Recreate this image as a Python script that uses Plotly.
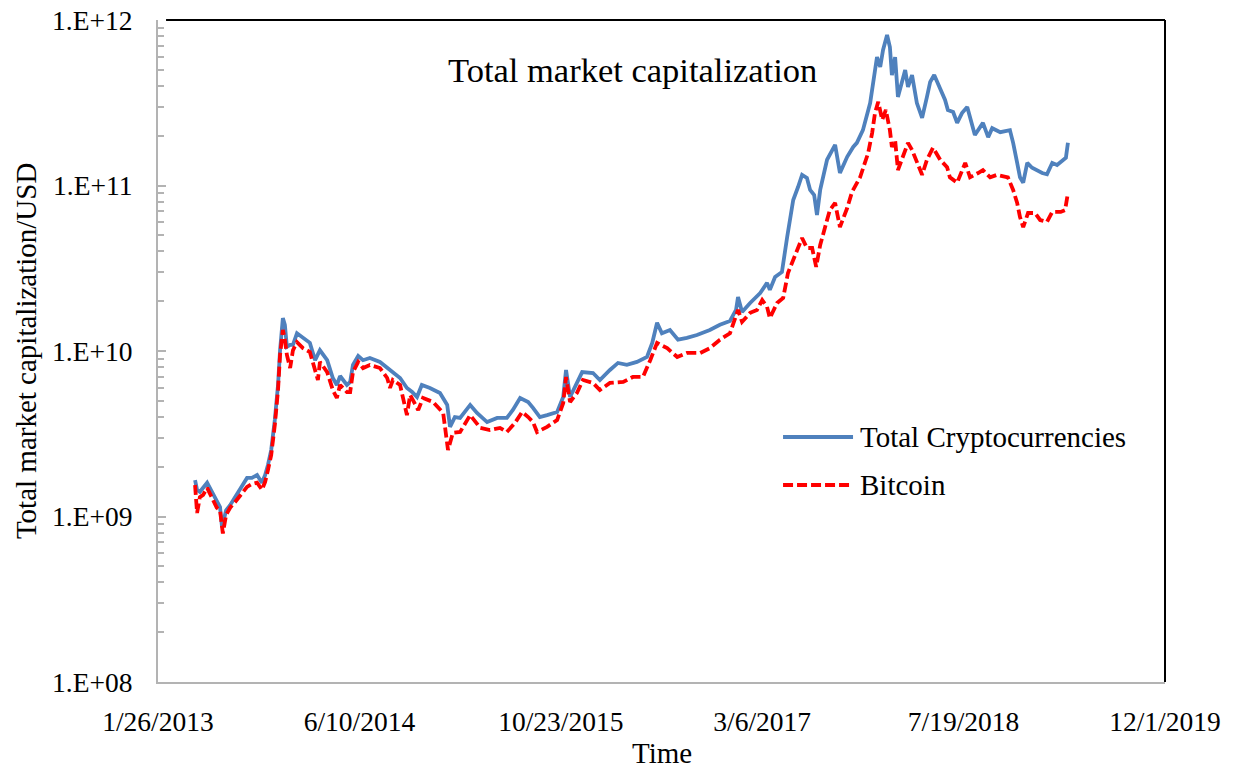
import plotly.graph_objects as go

# ---------------- data ----------------
total_dates = ["2013-04-28","2013-05-03","2013-05-10","2013-05-28","2013-06-09","2013-06-21","2013-06-29","2013-07-04","2013-07-14","2013-07-24",
"2013-08-05","2013-08-18","2013-09-04","2013-09-16","2013-09-29","2013-10-11","2013-10-19","2013-10-26","2013-11-03","2013-11-12",
"2013-11-20","2013-11-25","2013-12-02","2013-12-07","2013-12-12","2013-12-20","2013-12-27","2014-01-06","2014-01-21","2014-02-07",
"2014-02-20","2014-03-04","2014-03-22","2014-04-05","2014-04-15","2014-04-23","2014-05-10","2014-05-18","2014-05-25","2014-06-07",
"2014-06-19","2014-07-06","2014-07-31","2014-08-18","2014-09-01","2014-09-19","2014-10-06","2014-10-19","2014-10-31","2014-11-12",
"2014-12-02","2014-12-27","2015-01-14","2015-01-21","2015-02-02","2015-02-15","2015-03-12","2015-03-29","2015-04-23","2015-05-18",
"2015-06-11","2015-06-26","2015-07-14","2015-08-03","2015-08-15","2015-09-01","2015-09-19","2015-10-14","2015-10-29","2015-11-05",
"2015-11-15","2015-12-02","2015-12-15","2016-01-11","2016-01-28","2016-02-22","2016-03-13","2016-04-04","2016-04-29","2016-05-24",
"2016-06-06","2016-06-18","2016-06-30","2016-07-20","2016-08-09","2016-08-31","2016-09-25","2016-10-27","2016-11-21","2016-12-16",
"2016-12-31","2017-01-05","2017-01-15","2017-02-04","2017-03-01","2017-03-18","2017-03-25","2017-04-07","2017-04-24","2017-05-07",
"2017-05-22","2017-06-03","2017-06-13","2017-06-25","2017-07-03","2017-07-13","2017-07-20","2017-07-28","2017-08-14","2017-09-03",
"2017-09-15","2017-10-03","2017-10-18","2017-10-27","2017-11-11","2017-11-29","2017-12-16","2017-12-24","2017-12-31","2018-01-10",
"2018-01-17","2018-01-22","2018-01-30","2018-02-06","2018-02-24","2018-03-03","2018-03-13","2018-03-25","2018-04-07","2018-04-19",
"2018-04-27","2018-05-07","2018-05-22","2018-06-03","2018-06-10","2018-06-23","2018-07-03","2018-07-15","2018-07-28","2018-08-04",
"2018-08-16","2018-09-05","2018-09-18","2018-09-28","2018-10-18","2018-11-11","2018-11-19","2018-11-29","2018-12-06","2018-12-14",
"2018-12-24","2019-01-05","2019-01-17","2019-01-30","2019-02-11","2019-02-24","2019-03-08","2019-03-23","2019-03-30","2019-04-04"]

total_cap = [1.66e9,1.45e9,1.41e9,1.60e9,1.41e9,1.26e9,1.14e9,8.6e8,1.09e9,1.17e9,
1.31e9,1.45e9,1.71e9,1.71e9,1.78e9,1.60e9,1.78e9,2.05e9,2.52e9,3.83e9,
6.23e9,1.01e10,1.58e10,1.44e10,1.06e10,1.09e10,1.09e10,1.28e10,1.20e10,1.12e10,
8.8e9,1.01e10,8.8e9,6.87e9,6.23e9,7.06e9,6.23e9,6.50e9,8.24e9,9.33e9,
8.8e9,9.08e9,8.59e9,7.89e9,7.36e9,6.87e9,5.98e9,5.65e9,5.27e9,6.23e9,
5.98e9,5.57e9,4.72e9,3.48e9,3.99e9,3.94e9,4.72e9,4.22e9,3.72e9,3.94e9,
3.94e9,4.40e9,5.20e9,4.92e9,4.53e9,3.99e9,4.10e9,4.28e9,5.27e9,7.68e9,
5.27e9,6.41e9,7.46e9,7.36e9,6.68e9,7.68e9,8.47e9,8.24e9,8.59e9,9.20e9,
1.12e10,1.48e10,1.28e10,1.34e10,1.17e10,1.20e10,1.25e10,1.34e10,1.44e10,1.52e10,
1.77e10,2.12e10,1.72e10,1.95e10,2.24e10,2.58e10,2.34e10,2.80e10,3.00e10,4.89e10,
8.17e10,9.79e10,1.16e11,1.11e11,9.40e10,8.77e10,6.64e10,9.40e10,1.43e11,1.76e11,
1.19e11,1.49e11,1.71e11,1.81e11,2.16e11,3.15e11,5.97e11,5.20e11,6.59e11,8.12e11,
6.87e11,4.65e11,5.97e11,3.43e11,4.99e11,3.94e11,4.65e11,3.15e11,2.56e11,3.43e11,
4.22e11,4.65e11,3.78e11,3.29e11,2.86e11,2.78e11,2.39e11,2.74e11,2.98e11,2.59e11,
2.02e11,2.39e11,1.96e11,2.22e11,2.10e11,2.16e11,1.81e11,1.37e11,1.12e11,1.04e11,
1.37e11,1.28e11,1.24e11,1.19e11,1.17e11,1.37e11,1.33e11,1.43e11,1.47e11,1.81e11]

btc_dates = ["2013-04-28","2013-05-03","2013-05-10","2013-05-18","2013-05-28","2013-06-09","2013-06-21","2013-06-29","2013-07-06","2013-07-14",
"2013-07-24","2013-08-05","2013-08-18","2013-09-04","2013-09-16","2013-09-29","2013-10-11","2013-10-19","2013-10-26","2013-11-03",
"2013-11-12","2013-11-20","2013-11-25","2013-12-02","2013-12-07","2013-12-12","2013-12-20","2013-12-27","2014-01-06","2014-01-21",
"2014-02-07","2014-02-20","2014-02-27","2014-03-04","2014-03-22","2014-04-05","2014-04-15","2014-04-23","2014-05-10","2014-05-18",
"2014-05-25","2014-06-07","2014-06-19","2014-07-06","2014-07-31","2014-08-18","2014-08-25","2014-09-01","2014-09-19","2014-10-06",
"2014-10-14","2014-11-03","2014-11-15","2014-12-10","2015-01-04","2015-01-16","2015-01-28","2015-02-15","2015-03-12","2015-04-06",
"2015-04-30","2015-05-25","2015-06-11","2015-07-01","2015-07-19","2015-08-03","2015-08-15","2015-08-25","2015-09-19","2015-10-14",
"2015-10-29","2015-11-05","2015-11-15","2015-12-02","2015-12-17","2016-01-11","2016-01-28","2016-02-22","2016-03-26","2016-04-19",
"2016-05-14","2016-06-01","2016-06-18","2016-07-13","2016-08-07","2016-08-31","2016-10-03","2016-10-27","2016-11-21","2016-12-16",
"2016-12-24","2017-01-05","2017-01-15","2017-02-04","2017-02-21","2017-03-06","2017-03-18","2017-03-25","2017-04-12","2017-04-27",
"2017-05-09","2017-05-22","2017-06-01","2017-06-13","2017-06-25","2017-07-08","2017-07-18","2017-07-28","2017-08-14","2017-08-21",
"2017-09-03","2017-09-15","2017-10-03","2017-10-15","2017-11-04","2017-11-16","2017-11-24","2017-12-04","2017-12-11","2017-12-19",
"2017-12-29","2018-01-07","2018-01-17","2018-01-22","2018-01-30","2018-02-06","2018-02-19","2018-03-03","2018-03-13","2018-03-25",
"2018-04-07","2018-04-19","2018-05-04","2018-05-22","2018-06-08","2018-06-15","2018-07-03","2018-07-23","2018-08-04","2018-08-24",
"2018-09-05","2018-09-23","2018-10-10","2018-11-06","2018-11-19","2018-11-29","2018-12-06","2018-12-14","2018-12-26","2019-01-12",
"2019-01-25","2019-02-11","2019-02-24","2019-03-17","2019-03-28","2019-04-04"]

btc_cap = [1.55e9,1.05e9,1.31e9,1.35e9,1.49e9,1.31e9,1.13e9,1.09e9,7.9e8,1.02e9,
1.13e9,1.22e9,1.35e9,1.51e9,1.57e9,1.60e9,1.45e9,1.62e9,1.91e9,2.35e9,
3.57e9,5.81e9,9.46e9,1.34e10,1.17e10,9.46e9,7.89e9,1.01e10,1.13e10,1.04e10,
9.86e9,7.68e9,6.68e9,8.59e9,7.46e9,5.81e9,5.20e9,6.23e9,5.65e9,5.65e9,
7.46e9,8.59e9,7.89e9,8.24e9,7.89e9,6.87e9,5.98e9,6.68e9,6.23e9,4.10e9,
5.42e9,4.40e9,5.20e9,4.92e9,4.22e9,2.52e9,3.20e9,3.24e9,4.10e9,3.43e9,
3.33e9,3.43e9,3.24e9,3.67e9,4.28e9,3.99e9,3.72e9,3.24e9,3.48e9,3.83e9,
4.85e9,6.97e9,4.92e9,5.57e9,6.68e9,6.41e9,5.81e9,6.41e9,6.50e9,6.97e9,
6.97e9,8.8e9,1.12e10,1.04e10,9.20e9,9.73e9,9.73e9,1.04e10,1.17e10,1.28e10,
1.48e10,1.77e10,1.50e10,1.70e10,1.77e10,2.03e10,1.85e10,1.58e10,1.95e10,2.09e10,
2.96e10,3.55e10,4.08e10,4.82e10,4.19e10,4.19e10,3.22e10,4.37e10,6.19e10,7.11e10,
7.84e10,5.61e10,7.31e10,9.14e10,1.12e11,1.37e11,1.57e11,2.08e11,2.74e11,3.20e11,
2.49e11,2.86e11,2.16e11,1.71e11,1.88e11,1.24e11,1.49e11,1.81e11,1.64e11,1.37e11,
1.16e11,1.43e11,1.69e11,1.43e11,1.29e11,1.12e11,1.04e11,1.37e11,1.12e11,1.19e11,
1.24e11,1.12e11,1.16e11,1.12e11,9.40e10,7.84e10,6.45e10,5.61e10,6.82e10,6.82e10,
6.19e10,6.02e10,6.92e10,6.92e10,7.11e10,9.01e10]

x_tick_vals = ["2013-01-26","2014-06-10","2015-10-23","2017-03-06","2018-07-19","2019-12-01"]
x_tick_text = ["1/26/2013","6/10/2014","10/23/2015","3/6/2017","7/19/2018","12/1/2019"]
y_tick_vals = [1e8, 1e9, 1e10, 1e11, 1e12]
y_tick_text = ["1.E+08","1.E+09","1.E+10","1.E+11","1.E+12"]

series_names = ["Total Cryptocurrencies", "Bitcoin"]
chart_title = "Total market capitalization"
x_title = "Time"
y_title = "Total market capitalization/USD"

# ---------------- styling ----------------
FONT = "Liberation Serif, Times New Roman, serif"
BLUE = "#4F81BD"
RED = "#FF0000"
AXIS_GREY = "#B3B3B3"

fig = go.Figure()
fig.add_trace(go.Scatter(x=total_dates, y=total_cap, mode="lines", name=series_names[0],
                         line=dict(color=BLUE, width=3.8), showlegend=False))
fig.add_trace(go.Scatter(x=btc_dates, y=btc_cap, mode="lines", name=series_names[1],
                         line=dict(color=RED, width=3.8, dash="10px,4px"), showlegend=False))

# the page body adds an 8px margin, so the figure is sized/positioned to compensate
fig.update_layout(
    width=1227, height=758,
    margin=dict(l=150, r=70, t=12, b=84, autoexpand=False),
    paper_bgcolor="white", plot_bgcolor="white",
    font=dict(family=FONT, size=28, color="black"),
    xaxis=dict(type="date", range=[x_tick_vals[0], x_tick_vals[-1]], automargin=False,
               tickmode="array", tickvals=x_tick_vals, ticktext=x_tick_text,
               showgrid=False, zeroline=False, showline=True, linecolor=AXIS_GREY, linewidth=2,
               ticks="", ticklabelstandoff=14, tickfont=dict(size=27.5),
               ticklabeloverflow="allow"),
    yaxis=dict(type="log", range=[8, 12], automargin=False,
               tickmode="array", tickvals=y_tick_vals, ticktext=y_tick_text,
               showgrid=False, zeroline=False, showline=True, linecolor=AXIS_GREY, linewidth=2,
               ticks="inside", ticklen=8, tickwidth=2, tickcolor=AXIS_GREY,
               ticklabelstandoff=18, tickfont=dict(size=27.5), ticklabeloverflow="allow",
               minor=dict(ticks="inside", ticklen=6, tickwidth=2, tickcolor=AXIS_GREY,
                          dtick="D1", showgrid=False)),
)

# top / right border of the plot box (black)
fig.add_shape(type="line", xref="paper", yref="paper", x0=0.008, x1=1, y0=1, y1=1,
              line=dict(color="black", width=2))
fig.add_shape(type="line", xref="paper", yref="paper", x0=1, x1=1, y0=0, y1=1,
              line=dict(color="black", width=2))

# title and axis titles
fig.add_annotation(text=chart_title, xref="paper", yref="paper", x=0.4712, y=0.924,
                   xanchor="center", yanchor="middle", showarrow=False, font=dict(size=34.5))
fig.add_annotation(text=x_title, xref="paper", yref="paper", x=0.5, y=-0.108,
                   xanchor="center", yanchor="middle", showarrow=False, font=dict(size=29))
fig.add_annotation(text=y_title, xref="paper", yref="paper", x=-0.131, y=0.5,
                   xanchor="center", yanchor="middle", textangle=-90, showarrow=False,
                   font=dict(size=29))

# legend (drawn manually to match the long line samples)
legend_rows = [(0.3701, BLUE, "solid", series_names[0]), (0.2976, RED, "10px,4px", series_names[1])]
for ypos, col, dash, name in legend_rows:
    fig.add_shape(type="line", xref="paper", yref="paper", x0=0.6207, x1=0.6902, y0=ypos, y1=ypos,
                  line=dict(color=col, width=3.8, dash=dash))
    fig.add_annotation(text=name, xref="paper", yref="paper", x=0.6951, y=ypos,
                       xanchor="left", yanchor="middle", showarrow=False, font=dict(size=29))

fig.write_html("out.html")
